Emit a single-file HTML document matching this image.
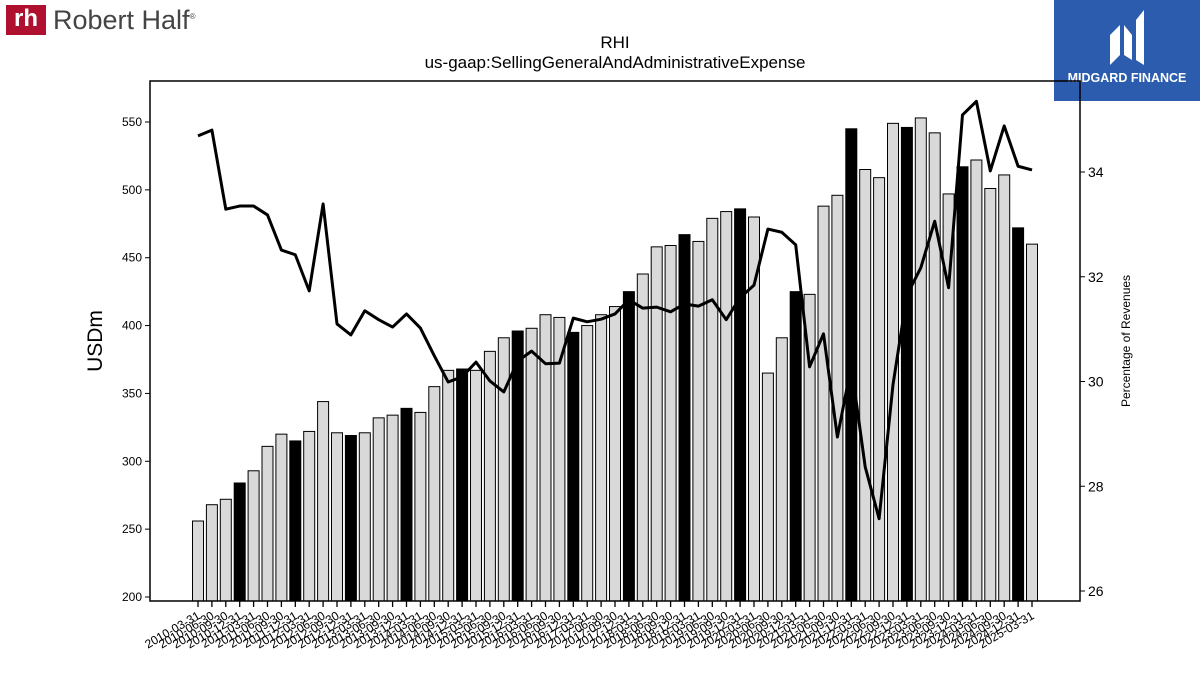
<!DOCTYPE html>
<html><head><meta charset="utf-8"><style>
body{margin:0;background:#fff;font-family:"Liberation Sans","DejaVu Sans",sans-serif}
#wrap{position:relative;width:1200px;height:675px;overflow:hidden}
</style></head><body>
<div id="wrap">
<div style="position:absolute;left:6px;top:5px;height:30px;display:flex;align-items:center">
 <div style="width:40px;height:30px;background:#b0102f;color:#fff;font-weight:bold;font-size:24px;line-height:28px;text-align:center">rh</div>
 <div style="font-size:27px;color:#444;margin-left:7px">Robert Half<sup style="font-size:8px">®</sup></div>
</div>
<div style="position:absolute;left:1054px;top:0;width:146px;height:101px;background:#2b5cae;color:#fff;text-align:center">
 <svg width="50" height="60" style="margin-top:10px" viewBox="0 0 50 60"><path d="M8 55 L8 25 L18 15 L18 45 Z M22 45 L22 15 L30 25 L30 50 Z M34 50 L34 10 L42 0 L42 55 Z" fill="#fff"/></svg>
 <div style="font-weight:bold;font-size:12.5px;margin-top:-4px">MIDGARD FINANCE</div>
</div>
<svg id="chart" width="1200" height="675" style="position:absolute;left:0;top:0"></svg>
</div>
<script>
const dates=[];for(let y=2010;y<=2025;y++){for(const q of["03-31","06-30","09-30","12-31"]){if(y==2025&&q!="03-31")break;dates.push(y+"-"+q);}}
const sga=[256,268,272,284,293,311,320,315,322,344,321,319,321,332,334,339,336,355,367,368,367,381,391,396,398,408,406,395,400,408,414,425,438,458,459,467,462,479,484,486,480,365,391,425,423,488,496,545,515,509,549,546,553,542,497,517,522,501,511,472,460];
const pct=[34.69,34.80,33.29,33.35,33.35,33.18,32.51,32.42,31.73,33.39,31.10,30.89,31.35,31.18,31.04,31.29,31.02,30.49,29.99,30.09,30.37,30.01,29.80,30.39,30.58,30.34,30.35,31.21,31.14,31.19,31.29,31.56,31.40,31.42,31.33,31.48,31.44,31.56,31.18,31.60,31.84,32.91,32.85,32.61,30.28,30.91,28.94,30.30,28.37,27.38,29.94,31.65,32.17,33.06,31.79,35.09,35.35,34.02,34.88,34.11,34.04];
const leftTicks=[200,250,300,350,400,450,500,550];
const rightTicks=[26,28,30,32,34];
const NS="http://www.w3.org/2000/svg",svg=document.getElementById("chart");
const L=150,R=1080,T=81,B=601;
const yL=v=>597-(v-200)*(475/350);
const yR=v=>172-(v-34)*(419/8);
const xI=i=>198+i*(834/60);
function mk(t,a,p){const e=document.createElementNS(NS,t);for(const k in a)e.setAttribute(k,a[k]);(p||svg).appendChild(e);return e;}
sga.forEach((v,i)=>{const q4=dates[i].endsWith("12-31");
 const r=mk("rect",{x:xI(i)-5.5,y:yL(v),width:11,height:B-yL(v),fill:q4?"#000":"#d9d9d9",stroke:"#000","stroke-width":1});
 
 });
let d="";pct.forEach((v,i)=>{d+=(i?"L":"M")+xI(i)+" "+yR(v);});
const ln=mk("path",{d:d,fill:"none",stroke:"#000","stroke-width":3,"stroke-linejoin":"round"});


const fr=mk("rect",{x:L,y:T,width:R-L,height:B-T,fill:"none",stroke:"#000","stroke-width":1.5});


leftTicks.forEach(v=>{mk("line",{x1:L-5,x2:L,y1:yL(v),y2:yL(v),stroke:"#000"});
 const t=mk("text",{x:L-8,y:yL(v)+4,"text-anchor":"end","font-size":12});t.textContent=v;
 
 });
rightTicks.forEach(v=>{mk("line",{x1:R,x2:R+5,y1:yR(v),y2:yR(v),stroke:"#000"});
 const t=mk("text",{x:R+8,y:yR(v)+5,"font-size":14});t.textContent=v;
 
 });
dates.forEach((s,i)=>{const x=xI(i);mk("line",{x1:x,x2:x,y1:B,y2:B+6,stroke:"#000","stroke-width":1.3});
 const t=mk("text",{x:x+3,y:B+17,"text-anchor":"end","font-size":12,transform:`rotate(-30 ${x+3} ${B+17})`});t.textContent=s;
 
 });
let t=mk("text",{x:615,y:48,"text-anchor":"middle","font-size":17});t.textContent="RHI";


t=mk("text",{x:615,y:68,"text-anchor":"middle","font-size":17});t.textContent="us-gaap:SellingGeneralAndAdministrativeExpense";


t=mk("text",{x:102,y:341,"text-anchor":"middle","font-size":21,transform:"rotate(-90 102 341)"});t.textContent="USDm";


t=mk("text",{x:1130,y:341,"text-anchor":"middle","font-size":12,transform:"rotate(-90 1130 341)"});t.textContent="Percentage of Revenues";


</script>
</body></html>
